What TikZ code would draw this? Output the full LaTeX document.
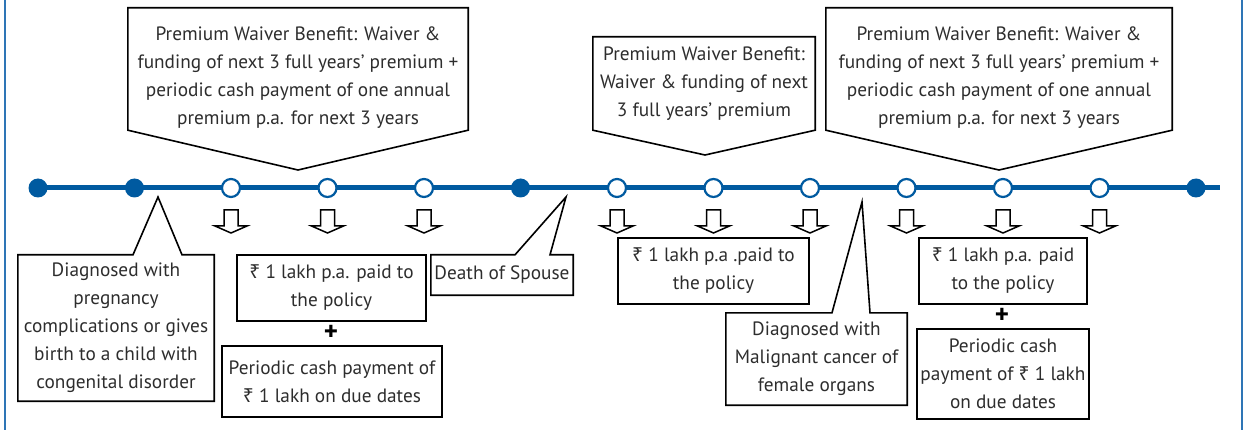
\documentclass[tikz,border=0pt]{standalone}
\usepackage{fontspec}
\setmainfont{PT Sans}
\newfontfamily\rupeefont{Noto Sans}
\newcommand{\inr}{{\rupeefont ₹}}
\usetikzlibrary{calc}
\usetikzlibrary{positioning}
\definecolor{lineblue}{RGB}{0,90,160}
\definecolor{frameblue}{RGB}{46,117,182}
\definecolor{txtgray}{RGB}{45,45,45}
\tikzset{
	>=stealth,
	callbox/.style={
		rectangle,
		inner sep=0pt,
		align=center,
		text=txtgray},
	outline/.style={draw=black, line width=1.6pt, line join=miter},
	timeline/.style={draw=lineblue, line width=5pt},
	fulldot/.style={circle, fill=lineblue, minimum size=19pt, inner sep=0pt},
	opendot/.style={circle, draw=lineblue, line width=2.2pt, fill=white, minimum size=18pt, inner sep=0pt},
	frame/.style={draw=frameblue, line width=2pt},
	plussign/.style={font=\bfseries\fontsize{27}{27}\selectfont, inner sep=0pt},
	payarrow/.pic={
		\draw[line width=1.5pt, fill=white, line join=miter]
			(-7,0) -- (-7,16) -- (-16,16) -- (0,23) -- (16,16) -- (7,16) -- (7,0) -- cycle;
	},
}

\begin{document}
\begin{tikzpicture}[x=1pt, y=-1pt, font=\fontsize{19.3}{28}\selectfont]
	\useasboundingbox (0,0) rectangle (1247,430);
	\draw[frame] (5,0) -- (5,430);
	\draw[frame] (1242,0) -- (1242,430);

	% timeline
	\foreach \i in {0,...,12}
		\coordinate (t\i) at (38+96.5*\i,188);
	\coordinate (tend) at (1220,188);
	\draw[timeline] (t0) -- (tend);
	\foreach \i in {0,1,5,12}
		\node[fulldot] (d\i) at (t\i) {};
	\foreach \i in {2,3,4,6,7,8,9,10,11} {
		\node[opendot] (d\i) at (t\i) {};
		\pic at ($(t\i)+(0,22)$) {payarrow};
	}

	% benefits above the line
	\node[callbox, minimum width=340pt, minimum height=104pt] (top1) at (298,78)
		{Premium Waiver Benefit: Waiver \&\\funding of next 3 full years’ premium +\\periodic cash payment of one annual\\premium p.a. for next 3 years};
	\node[callbox, minimum width=222pt, minimum height=93pt] (top2) at (704,83.5)
		{Premium Waiver Benefit:\\Waiver \& funding of next\\3 full years’ premium};
	\node[callbox, minimum width=346pt, minimum height=104pt] (top3) at (999,78)
		{Premium Waiver Benefit: Waiver \&\\funding of next 3 full years’ premium +\\periodic cash payment of one annual\\premium p.a. for next 3 years};
	\coordinate (tip1) at (298,170);
	\coordinate (tip2) at (705,155);
	\coordinate (tip3) at (999,170);
	\foreach \b/\up in {1/18,2/0,3/18}
		\draw[outline] ([yshift=\up pt]top\b.north west) -- ([yshift=\up pt]top\b.north east)
			-- (top\b.south east) -- (tip\b) -- (top\b.south west) -- cycle;

	% events below the line
	\node[callbox, minimum width=196pt, minimum height=146pt] (diag1) at (116,328)
		{Diagnosed with\\pregnancy\\complications or gives\\birth to a child with\\congenital disorder};
	\node[callbox, minimum width=142pt, minimum height=40pt] (death) at (502,275)
		{Death of Spouse};
	\node[callbox, minimum width=181pt, minimum height=92pt] (diag2) at (816.5,359)
		{Diagnosed with\\Malignant cancer of\\female organs};
	\coordinate (ev1) at (158,197);
	\coordinate (ev2) at (566,197);
	\coordinate (ev3) at (862,202);
	\draw[outline] (diag1.north west) -- ([xshift=-25pt]ev1 |- diag1.north) -- (ev1)
		-- ([xshift=24pt]ev1 |- diag1.north) -- (diag1.north east) -- (diag1.south east)
		-- (diag1.south west) -- cycle;
	\draw[outline] (death.north west) -- ([xshift=-51pt]ev2 |- death.north) -- (ev2)
		-- ([xshift=-16pt]ev2 |- death.north) -- (death.north east) -- (death.south east)
		-- (death.south west) -- cycle;
	\draw[outline] (diag2.north west) -- ([xshift=-30pt]ev3 |- diag2.north) -- (ev3)
		-- ([xshift=8pt]ev3 |- diag2.north) -- (diag2.north east) -- (diag2.south east)
		-- (diag2.south west) -- cycle;

	% payments
	\node[callbox, outline, minimum width=189pt, minimum height=66pt] (pay1) at (331.5,288)
		{\inr\ 1 lakh p.a. paid to\\the policy};
	\node[plussign] (plus1) at (331,333) {+};
	\node[callbox, outline, minimum width=220pt, minimum height=71pt] (cash1) at (332,381.5)
		{Periodic cash payment of\\\inr\ 1 lakh on due dates};
	\node[callbox, outline, minimum width=191pt, minimum height=66pt] (pay2) at (713.5,271)
		{\inr\ 1 lakh p.a .paid to\\the policy};
	\node[callbox, outline, minimum width=168pt, minimum height=66pt] (pay3) at (1003,271)
		{\inr\ 1 lakh p.a. paid\\to the policy};
	\node[plussign] (plus3) at (1002,316) {+};
	\node[callbox, outline, minimum width=172pt, minimum height=90pt] (cash3) at (1003,374)
		{Periodic cash\\payment of \inr\ 1 lakh\\on due dates};
\end{tikzpicture}
\end{document}
